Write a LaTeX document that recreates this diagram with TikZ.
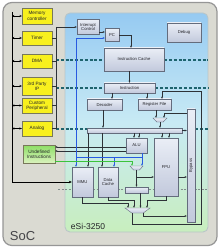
\documentclass[tikz,border=0pt]{standalone}
\usepackage{fontspec}
\setmainfont{Liberation Sans}
\usetikzlibrary{arrows.meta,shapes.geometric}
\pgfdeclarelayer{back}
\pgfdeclarelayer{mid}
\pgfsetlayers{back,mid,main}
\definecolor{socfill}{RGB}{218,218,210}
\definecolor{socdraw}{RGB}{150,150,150}
\definecolor{esitop}{RGB}{150,202,242}
\definecolor{esimid}{RGB}{200,234,244}
\definecolor{esibot}{RGB}{200,238,190}
\definecolor{esidraw}{RGB}{185,198,200}
\definecolor{blktop}{RGB}{234,238,246}
\definecolor{blkbot}{RGB}{194,201,220}
\definecolor{blkdraw}{RGB}{100,108,125}
\definecolor{yfill}{RGB}{248,240,30}
\definecolor{ydraw}{RGB}{120,120,90}
\definecolor{gtop}{RGB}{140,222,100}
\definecolor{gbot}{RGB}{218,242,190}
\definecolor{lnc}{RGB}{45,50,55}
\definecolor{bluel}{RGB}{40,90,225}
\definecolor{greenl}{RGB}{60,195,60}
\definecolor{teald}{RGB}{30,100,110}
\definecolor{grayd}{RGB}{130,140,140}
\definecolor{txt}{RGB}{35,35,40}
\begin{document}
\begin{tikzpicture}[x=1pt,y=-1pt,
  blk/.style={draw=blkdraw, line width=0.4pt, top color=blktop, bottom color=blkbot, inner sep=0pt, align=center, text=txt, font=\fontsize{4.2}{4.7}\selectfont},
  ybox/.style={draw=ydraw, line width=0.4pt, fill=yfill, inner sep=0pt, align=center, minimum width=30pt, text=txt, font=\fontsize{4.7}{5.3}\selectfont},
  gbox/.style={draw=ydraw, line width=0.4pt, top color=gtop, bottom color=gbot, inner sep=0pt, align=center, text=txt, font=\fontsize{4.7}{5.3}\selectfont},
  mux/.style={trapezium, trapezium stretches=true, shape border rotate=180, trapezium angle=60, draw=blkdraw, line width=0.4pt, top color=blktop, bottom color=blkbot, inner sep=0.5pt},
  ln/.style={draw=lnc, line width=0.45pt},
  arr/.style={ln, -{Stealth[length=2.2pt,width=1.9pt]}},
  barr/.style={draw=bluel, line width=0.5pt, -{Stealth[length=2.2pt,width=1.9pt]}},
  bln/.style={draw=bluel, line width=0.5pt},
  garr/.style={draw=greenl, line width=0.5pt, -{Stealth[length=2.2pt,width=1.9pt]}},
  busl/.style={draw=black, line width=0.9pt, -{Stealth[length=3pt,width=2.6pt]}},
  busd/.style={draw=black, line width=0.6pt, {Stealth[length=2.4pt,width=2.2pt]}-{Stealth[length=2.4pt,width=2.2pt]}},
  tdash/.style={draw=teald, line width=1.2pt, dash pattern=on 3pt off 1.8pt},
  gdash/.style={draw=grayd, line width=0.4pt, dash pattern=on 2pt off 1.5pt}
]
\useasboundingbox (0,0) rectangle (220,248);
\begin{pgfonlayer}{back}
\node[draw=socdraw, line width=1.2pt, fill=socfill, rounded corners=9pt, minimum width=214pt, minimum height=243pt, inner sep=0pt] (soc) at (110,124) {};
\node[draw=esidraw, line width=0.9pt, top color=esitop, bottom color=esibot, middle color=esimid, rounded corners=5pt, minimum width=143pt, minimum height=219pt, inner sep=0pt] (esi) at (136.5,122.5) {};
\end{pgfonlayer}
\node[text=txt!85!white, font=\fontsize{13}{13}\selectfont] (soclbl) at (22.5,236) {SoC};
\node[text=txt, font=\fontsize{8.5}{8.5}\selectfont] (esilbl) at (88,226) {eSi-3250};
% peripherals
\node[ybox, minimum height=16pt] (memc) at (37,16) {Memory\\controller};
\node[ybox, minimum height=14pt] (timer) at (37,38) {Timer};
\node[ybox, minimum height=14pt] (dma) at (37,61) {DMA};
\node[ybox, minimum height=18pt] (ip) at (37,86) {3rd Party\\IP};
\node[ybox, minimum height=15pt] (cust) at (37,105.5) {Custom\\Peripheral};
\node[ybox, minimum height=15pt] (analog) at (37,128.5) {Analog};
\node[gbox, minimum width=32pt, minimum height=18pt] (undef) at (39,154) {Undefined\\Instructions};
% core blocks
\node[blk, minimum width=22pt, minimum height=15pt] (ic) at (88,27) {Interrupt\\Control};
\node[blk, minimum width=14pt, minimum height=13pt] (pc) at (112,35) {PC};
\node[blk, minimum width=60pt, minimum height=23pt] (icache) at (134,59.5) {Instruction Cache};
\node[blk, minimum width=51pt, minimum height=10pt] (instr) at (129.5,88) {Instruction};
\node[blk, minimum width=35pt, minimum height=11pt] (dec) at (104.5,104.5) {Decoder};
\node[blk, minimum width=33pt, minimum height=11pt] (rf) at (154.5,104.5) {Register File};
\node[blk, minimum width=34pt, minimum height=19pt] (debug) at (184,32.5) {Debug};
\node[blk, minimum width=95pt, minimum height=5pt] (bar) at (134.5,130.5) {};
\node[blk, minimum width=21pt, minimum height=15pt] (alu) at (136.5,145.5) {ALU};
\node[blk, minimum width=24pt, minimum height=58pt] (fpu) at (166,167) {FPU};
\node[blk, minimum width=8pt, minimum height=113pt] (bypass) at (191,165.5) {};
\node[rotate=90, text=txt, font=\fontsize{4.2}{4.7}\selectfont, inner sep=0pt] (bypasst) at (bypass.center) {Bypass};
\node[blk, minimum width=21pt, minimum height=30pt] (mmu) at (82.5,182) {MMU};
\node[blk, minimum width=20pt, minimum height=30pt] (dcache) at (108,182) {Data\\Cache};
\node[blk, minimum width=23pt, minimum height=6pt] (wb) at (136.5,190) {};
\node[mux, minimum width=14pt, minimum height=4pt] (rfmux) at (160,120) {};
\node[mux, minimum width=13pt, minimum height=4pt] (alumux) at (136.5,168) {};
\node[mux, minimum width=25pt, minimum height=5pt] (botmux) at (137.5,210.5) {};
% dashed stage lines
\coordinate (d1) at (56,60);
\coordinate (d2) at (56,88);
\coordinate (d3) at (56,129);
\coordinate (d4) at (58,189);
\begin{pgfonlayer}{mid}
\draw[tdash] (d1) -- (d1 -| icache.west);
\draw[tdash] (d1 -| icache.east) -- (d1 -| esi.east);
\draw[tdash] (d2) -- (d2 -| instr.west);
\draw[tdash] (d2 -| instr.east) -- (d2 -| esi.east);
\draw[tdash] (d3) -- (d3 -| bar.west);
\draw[tdash] (d3 -| bypass.east) -- (d3 -| esi.east);
\draw[gdash] (d4) -- (d4 -| esi.east);
\end{pgfonlayer}
% system bus
\coordinate (bt) at (12,12);
\coordinate (bb) at (12,182);
\draw[busl] (bt) -- (bb) -- (mmu.west);
\foreach \b in {memc,timer,dma,ip,cust,analog}
  \draw[busd] (\b.west -| bt) -- (\b.west);
% interrupt lines
\coordinate (iv) at (56,27);
\coordinate (ivb) at (56,128.5);
\draw[ln] (iv) -- (ivb);
\foreach \b in {timer,dma,ip,cust,analog}
  \draw[ln] (\b.east) -- (\b.east -| iv);
\draw[arr] (iv) -- (ic.west);
\coordinate (icpc) at (99,32);
\draw[arr] (icpc) -- (icpc -| pc.west);
% fetch path
\draw[arr] (pc.east) -| ([xshift=-3pt]icache.north);
\draw[arr] (icache.south -| instr.north) -- (instr.north);
\draw[arr] ([xshift=7.5pt]dec.north |- instr.south) -- ([xshift=7.5pt]dec.north);
\draw[arr] ([xshift=-7.5pt]rf.north |- instr.south) -- ([xshift=-7.5pt]rf.north);
\draw[arr] ([xshift=-1.5pt]dec.south) -- ([xshift=-1.5pt]dec.south |- bar.north);
% register file mux
\draw[arr] ([xshift=1.5pt]rf.south) -- ([xshift=1.5pt]rf.south |- rfmux.north);
\coordinate (byp) at (164,113);
\draw[arr] (byp -| bypass.west) -- (byp) -- (byp |- rfmux.north);
\draw[arr] (rfmux.south) -- (rfmux.south |- bar.north);
% bar outputs
\draw[arr] (bar.east) -- (bar.east -| bypass.west);
\draw[arr] ([xshift=-2.5pt]alu.north |- bar.south) -- ([xshift=-2.5pt]alu.north);
\draw[arr] ([xshift=2.5pt]alu.north |- bar.south) -- ([xshift=2.5pt]alu.north);
\draw[arr] ([xshift=-4pt]fpu.north |- bar.south) -- ([xshift=-4pt]fpu.north);
\draw[arr] ([xshift=3pt]fpu.north |- bar.south) -- ([xshift=3pt]fpu.north);
\draw[arr] ([xshift=5.5pt]mmu.north |- bar.south) -- ([xshift=5.5pt]mmu.north);
\draw[arr] ([xshift=-6pt]dcache.north |- bar.south) -- ([xshift=-6pt]dcache.north);
% undefined instruction signals
\draw[arr] ([yshift=-1.5pt]alu.west) -- ([yshift=-1.5pt]alu.west -| undef.east);
\draw[arr] ([yshift=-5.5pt]alu.west) -- ([yshift=-5.5pt]alu.west -| undef.east);
% blue address paths
\coordinate (bj) at (76,157);
\coordinate (bpc) at (76,38);
\coordinate (bk) at (142,157);
\coordinate (bdc) at (114,157);
\draw[barr] (bj) -- (bpc) -- (bpc -| pc.west);
\draw[barr] (bj) -- (bj |- mmu.north);
\draw[bln] (bj) -- (bk);
\draw[barr] (alu.south -| bk) -- (bk |- alumux.north);
\draw[barr] (bdc) -- (bdc |- dcache.north);
% green path
\coordinate (gk) at (132,161);
\draw[garr] (gk -| undef.east) -- (gk) -- (gk |- alumux.north);
% execute outputs
\coordinate (br) at (136.5,177);
\draw[arr] (alumux.south) -- (wb.north);
\draw[arr] (br) -- (br -| fpu.west);
\draw[arr] (br -| fpu.east) -- (br -| bypass.west);
\draw[arr] (mmu.south) -- ++(0,6) -| ([xshift=-9.5pt]botmux.north);
\draw[arr] (dcache.south) -- ++(0,3) -| ([xshift=-3.5pt]botmux.north);
\draw[arr] ([xshift=4pt]wb.south) -- ([xshift=4pt]wb.south |- botmux.north);
\draw[arr] (fpu.south) -- ++(0,4) -| ([xshift=9.5pt]botmux.north);
% write back
\coordinate (lp1) at (132,224);
\coordinate (lp2) at (201,91);
\draw[arr] (botmux.south -| lp1) -- (lp1) -| (lp2) -| ([xshift=7.5pt]rf.north);
\coordinate (bp) at (143,216);
\draw[arr] (botmux.south -| bp) -- (bp) -- (bp -| bypass.west);
\end{tikzpicture}
\end{document}
